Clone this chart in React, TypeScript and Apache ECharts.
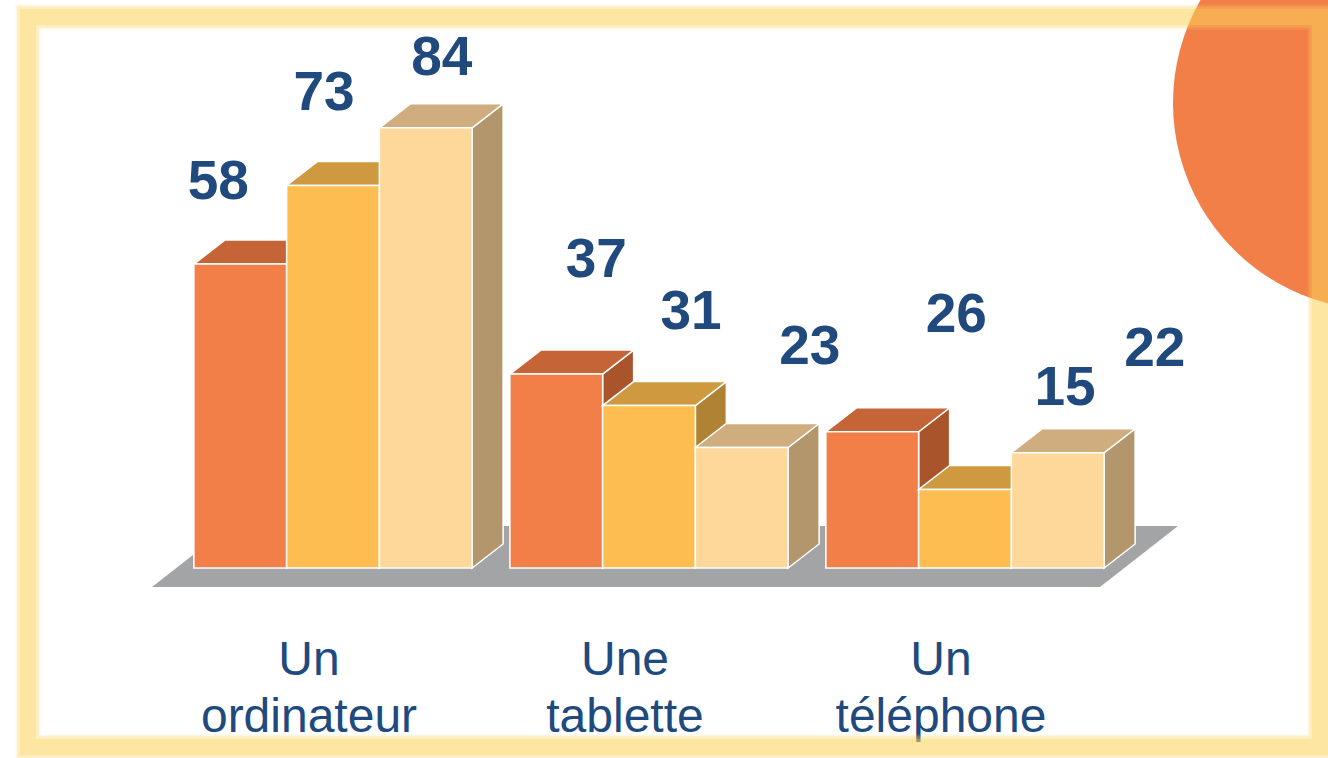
import React, { useEffect, useRef } from "react";
import * as echarts from "echarts";

const CATEGORIES = ["Un\nordinateur", "Une\ntablette", "Un\ntéléphone"];
const SERIES_NAMES = ["Série 1", "Série 2", "Série 3"];
const SERIES_1 = [58, 37, 26];
const SERIES_2 = [73, 31, 15];
const SERIES_3 = [84, 23, 22];
const Y_MAX = 100;

// styling / layout constants
const FRONT = ["#f27e48", "#fdbd50", "#fed89b"];
const TOP = ["#c46437", "#cf993f", "#cfad7e"];
const SIDE = ["#aa542c", "#b08334", "#b3966c"];
const BLUE = "#204a7d";
const DEPTH_X = 31;
const DEPTH_Y = -24;
const BAR_FRAC = 0.2935;
// label offsets relative to bar front-top centre [series][category]
const LABEL_OFF: number[][][] = [
  [[-22, -84], [40, -116], [84, -119]],
  [[-9, -94], [42, -96], [100, -103]],
  [[16, -72], [68, -102], [97, -106]],
];

export default function App() {
  const ref = useRef<HTMLDivElement>(null);
  useEffect(() => {
    const chart = echarts.init(ref.current!, undefined, { renderer: "svg" });
    const all = [SERIES_1, SERIES_2, SERIES_3];
    const makeRender = (si: number) => (params: any, api: any) => {
      const cat = api.value(0);
      const v = api.value(1);
      const top = api.coord([cat, v]);
      const base = api.coord([cat, 0]);
      const band = api.size([1, 0])[0];
      const bw = band * BAR_FRAC;
      const x0 = top[0] - 1.5 * bw + si * bw;
      const x1 = x0 + bw;
      const yT = top[1];
      const yB = base[1];
      const edge = { stroke: "#ffffff", lineWidth: 1.5 };
      const off = LABEL_OFF[si][cat];
      return {
        type: "group",
        children: [
          {
            type: "polygon",
            shape: { points: [[x1, yT], [x1 + DEPTH_X, yT + DEPTH_Y], [x1 + DEPTH_X, yB + DEPTH_Y], [x1, yB]] },
            style: { fill: SIDE[si], ...edge },
          },
          {
            type: "polygon",
            shape: { points: [[x0, yT], [x1, yT], [x1 + DEPTH_X, yT + DEPTH_Y], [x0 + DEPTH_X, yT + DEPTH_Y]] },
            style: { fill: TOP[si], ...edge },
          },
          {
            type: "rect",
            shape: { x: x0, y: yT, width: bw, height: yB - yT },
            style: { fill: FRONT[si], ...edge },
          },
          {
            type: "text",
            x: x0 + bw / 2 + off[0],
            y: yT + off[1],
            style: {
              text: String(v),
              fill: BLUE,
              fontSize: 55,
              fontWeight: "bold",
              fontFamily: "Liberation Sans, Arial, sans-serif",
              align: "center",
              verticalAlign: "middle",
            },
          },
        ],
      };
    };
    const borderLayers = [
      { w: 25, o: 0.18 },
      { w: 21, o: 0.25 },
      { w: 16, o: 0.3 },
    ].map((l, i) => ({
      type: "rect",
      z: 60 + i,
      shape: { x: 28, y: 17, width: 1292, height: 730 },
      style: { fill: "none", stroke: "#fcd35c", lineWidth: l.w, opacity: l.o },
    }));
    chart.setOption({
      animation: false,
      backgroundColor: "#ffffff",
      grid: { left: 175, width: 948, top: 44, height: 524 },
      xAxis: {
        type: "category",
        data: CATEGORIES,
        axisLine: { show: false },
        axisTick: { show: false },
        axisLabel: {
          margin: 62,
          color: BLUE,
          fontSize: 48,
          lineHeight: 57,
          fontFamily: "Liberation Sans, Arial, sans-serif",
          padding: [0, 48, 0, 0],
        },
      },
      yAxis: { type: "value", min: 0, max: Y_MAX, show: false, splitLine: { show: false } },
      graphic: [
        {
          type: "polygon",
          z: -10,
          shape: { points: [[152, 587], [1100, 587], [1178, 526], [230, 526]] },
          style: { fill: "#a3a4a6" },
        },
        {
          type: "circle",
          z: 50,
          shape: { cx: 1380, cy: 103, r: 207 },
          style: { fill: "#f27e48" },
        },
        ...borderLayers,
      ],
      series: all.map((vals, si) => ({
        type: "custom",
        name: SERIES_NAMES[si],
        renderItem: makeRender(si),
        encode: { x: 0, y: 1 },
        data: vals.map((v, i) => [i, v]),
        z: 2 + si,
      })),
    });
    return () => chart.dispose();
  }, []);
  return (
    <div
      ref={ref}
      style={{ position: "absolute", left: 0, top: 0, width: 1328, height: 758 }}
    />
  );
}
